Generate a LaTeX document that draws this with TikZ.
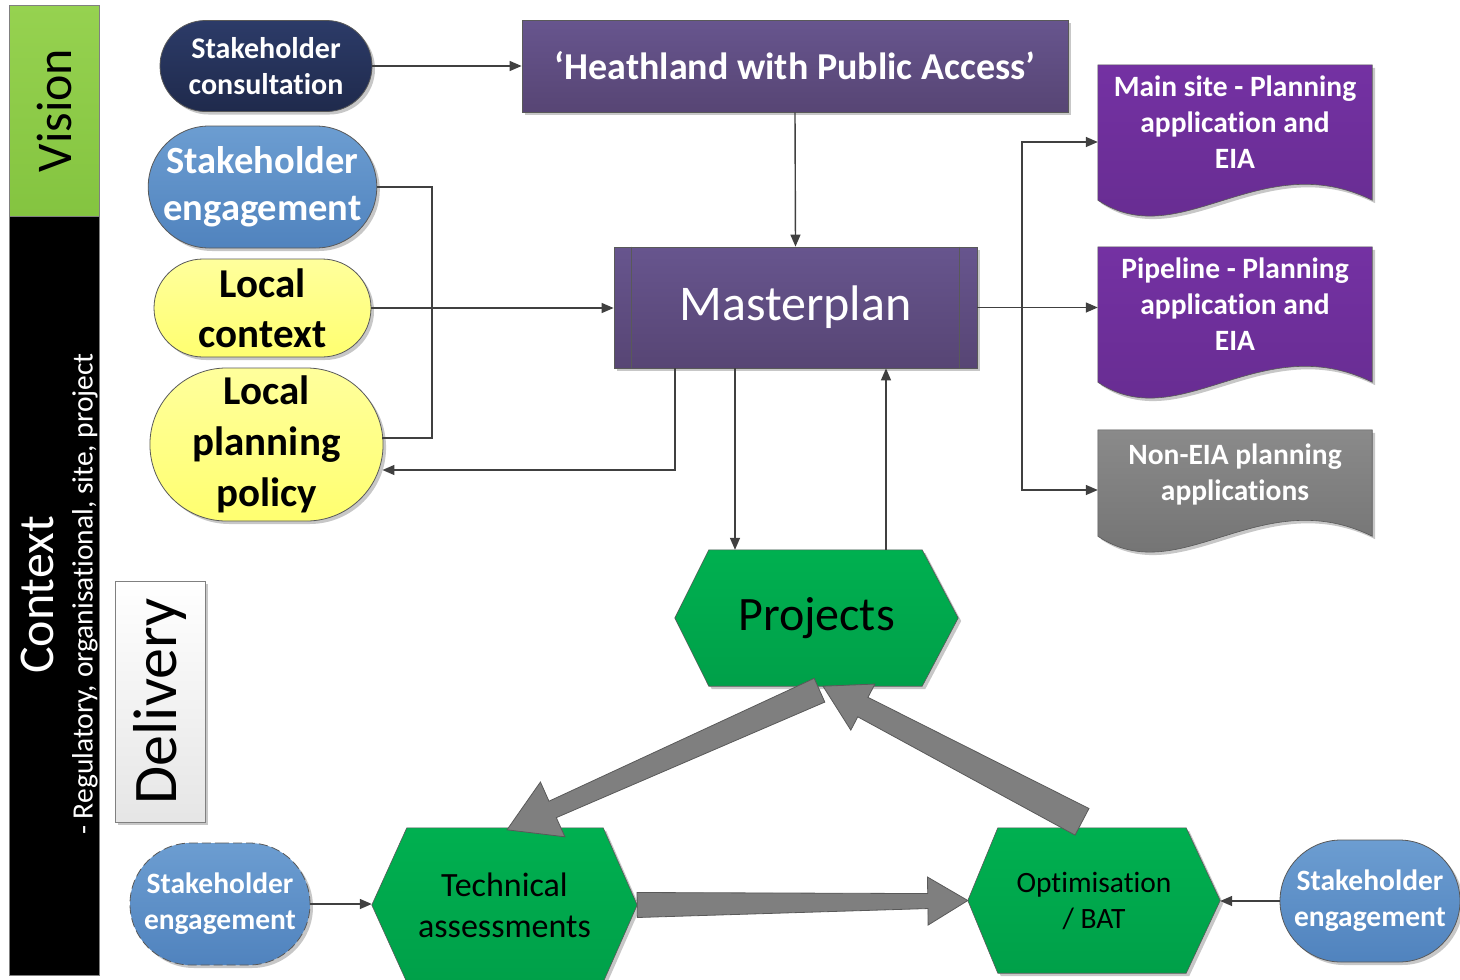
\documentclass[tikz,border=0pt]{standalone}
\usepackage{fontspec}
\setmainfont{Carlito}[Ligatures=NoCommon]
\usetikzlibrary{shapes.misc,arrows.meta,calc,shadows,backgrounds}
\definecolor{linegray}{HTML}{404040}
\definecolor{bordergray}{HTML}{595959}
\definecolor{navytop}{HTML}{2C3B68}
\definecolor{navybot}{HTML}{1F2A4C}
\definecolor{steeltop}{HTML}{6C9DD1}
\definecolor{steelbot}{HTML}{5083BE}
\definecolor{yeltop}{HTML}{FFFF9C}
\definecolor{yelbot}{HTML}{FFFF70}
\definecolor{purtop}{HTML}{67558E}
\definecolor{purbot}{HTML}{574574}
\definecolor{viotop}{HTML}{7431A3}
\definecolor{viobot}{HTML}{652C8E}
\definecolor{graytop}{HTML}{8A8A8A}
\definecolor{graybot}{HTML}{6E6E6E}
\definecolor{grntop}{HTML}{00B050}
\definecolor{grnbot}{HTML}{00A049}
\definecolor{visleft}{HTML}{96D250}
\definecolor{visright}{HTML}{84C440}
\definecolor{arrfill}{HTML}{7F7F7F}
\newcommand\fsz[2]{\fontsize{#1}{#2}\selectfont}
\newcommand\docpath[3]{\path[#3] (#1.north west) -- (#1.north east) -- ($(#1.south east)+(0,#2)$) .. controls +(-112,-55) and +(82,55) .. ($(#1.south west)+(0,#2)$) -- cycle;}
\newcommand\blkarrow[6]{%
  \coordinate (bah) at ($(#2)!#6!(#1)$);
  \path[blockarr] ($(#1)!#3!90:(#2)$) -- ($(bah)!#4!90:(#2)$) -- ($(bah)!#5!90:(#2)$) -- (#2) -- ($(bah)!#5!270:(#2)$) -- ($(bah)!#4!270:(#2)$) -- ($(#1)!#3!270:(#2)$) -- cycle;}
\tikzset{
  conn/.style={draw=linegray, line width=1.4pt, -{Triangle[length=12pt,width=10pt]}},
  plainline/.style={draw=linegray, line width=1.4pt},
  shd/.style={drop shadow={shadow xshift=3pt,shadow yshift=-3pt,opacity=0.22,fill=black}},
  stadium/.style={rounded rectangle, draw=bordergray, line width=0.8pt, align=center, inner sep=0pt, shd},
  navyfill/.style={top color=navytop, bottom color=navybot, text=white},
  steelfill/.style={top color=steeltop, bottom color=steelbot, text=white},
  yelfill/.style={top color=yeltop, bottom color=yelbot, text=black},
  purbox/.style={draw=bordergray, line width=0.8pt, top color=purtop, bottom color=purbot, text=white, align=center, shd},
  docbox/.style={minimum width=274pt, align=center, text=white, inner sep=0pt},
  viofill/.style={draw=bordergray, line width=0.6pt, top color=viotop, bottom color=viobot, shd},
  grayfill/.style={draw=bordergray, line width=0.6pt, top color=graytop, bottom color=graybot, shd},
  hexfill/.style={draw=bordergray, line width=0.6pt, top color=grntop, bottom color=grnbot, shd},
  hexbox/.style={align=center, text=black, inner sep=0pt},
  blockarr/.style={fill=arrfill, draw=bordergray, line width=0.8pt, line join=miter},
}
\begin{document}
\begin{tikzpicture}[x=1pt,y=-1pt]
\useasboundingbox (0,0) rectangle (1460,980);

% side bars
\node[rotate=90, draw=gray, line width=0.8pt, minimum width=211pt, minimum height=90pt,
      top color=visleft, bottom color=visright, font=\fsz{50}{60}, inner sep=0pt] (visbar) at (54,110.5) {Vision};
\node[draw=gray, line width=0.8pt, fill=black, minimum width=90pt, minimum height=759pt, inner sep=0pt] (ctxbar) at (54,595.5) {};
\node[rotate=90, text=white, font=\fsz{50}{60}, inner sep=0pt] (ctx) at (37,595) {Context};
\node[rotate=90, text=white, font=\fsz{29.5}{36}, inner sep=0pt] (reg) at (85,594) {- Regulatory, organisational, site, project};
\node[rotate=90, draw=gray, line width=0.8pt, minimum width=241pt, minimum height=90pt,
      top color=white, bottom color=black!10, font=\fsz{62}{70}, inner sep=0pt, shd] (deliv) at (160,701.5) {Delivery};

% left stadiums
\node[stadium, navyfill, minimum width=212pt, minimum height=91pt, font=\fsz{30}{36}\bfseries] (sc) at (266,66) {Stakeholder\\consultation};
\node[stadium, steelfill, minimum width=217pt, minimum height=122pt, font=\fsz{38.5}{47}\bfseries] (se1) at (262.5,187) {Stakeholder\\engagement};
\node[stadium, yelfill, minimum width=217pt, minimum height=98pt, font=\fsz{41}{50}\bfseries] (lc) at (262.5,308) {Local\\context};
\node[stadium, yelfill, minimum width=225pt, minimum height=153pt, font=\fsz{41}{51}\bfseries] (lpp) at (266.5,444.5) {Local\\planning\\policy};

% central boxes
\node[purbox, minimum width=546pt, minimum height=92pt, font=\fsz{38}{44}\bfseries] (heath) at (795,66) {‘Heathland with Public Access’};
\node[purbox, minimum width=363pt, minimum height=121pt, font=\fsz{50}{60}] (mp) at (795.5,307.5) {Masterplan};
\draw[bordergray, line width=0.9pt] ($(mp.north west)+(18,0)$) -- ($(mp.south west)+(18,0)$);
\draw[bordergray, line width=0.9pt] ($(mp.north east)+(-18,0)$) -- ($(mp.south east)+(-18,0)$);

% documents
\node[docbox, minimum height=114pt, font=\fsz{29.5}{36}\bfseries] (doc1) at (1235,122) {Main site - Planning\\application and\\EIA};
\node[docbox, minimum height=114pt, font=\fsz{29.5}{36}\bfseries] (doc2) at (1235,304) {Pipeline - Planning\\application and\\EIA};
\node[docbox, minimum height=88pt, font=\fsz{29.5}{36}\bfseries] (doc3) at (1235,474) {Non-EIA planning\\applications};

% hexagon texts
\node[hexbox, minimum width=283pt, minimum height=136pt, font=\fsz{48}{56}] (proj) at (816.5,618) {Projects};
\node[hexbox, minimum width=265pt, minimum height=154pt, font=\fsz{34}{41}] (tech) at (504.5,905) {Technical\\assessments};
\node[hexbox, minimum width=252pt, minimum height=145pt, font=\fsz{29.5}{36}] (opt) at (1094,900.5) {Optimisation\\/ BAT};

% bottom stakeholder engagement
\node[stadium, steelfill, dashed, dash pattern=on 9pt off 4pt, minimum width=180pt, minimum height=122pt, font=\fsz{29.5}{36}\bfseries] (sebl) at (220,904) {Stakeholder\\engagement};
\node[stadium, steelfill, minimum width=180pt, minimum height=122pt, font=\fsz{29.5}{36}\bfseries] (sebr) at (1370,901) {Stakeholder\\engagement};

% background shapes
\begin{scope}[on background layer]
  \fill[white] (0,0) rectangle (1460,980);
  \docpath{doc1}{21}{viofill}
  \docpath{doc2}{21}{viofill}
  \docpath{doc3}{18}{grayfill}
  \path[hexfill] ($(proj.north west)+(34,0)$) -- ($(proj.north east)+(-36,0)$) -- (proj.east) -- ($(proj.south east)+(-36,0)$) -- ($(proj.south west)+(34,0)$) -- (proj.west) -- cycle;
  \path[hexfill] ($(tech.north west)+(35,0)$) -- ($(tech.north east)+(-34,0)$) -- (tech.east) -- ($(tech.south east)+(-34,0)$) -- ($(tech.south west)+(35,0)$) -- (tech.west) -- cycle;
  \path[hexfill] ($(opt.north west)+(30,0)$) -- ($(opt.north east)+(-34,0)$) -- (opt.east) -- ($(opt.south east)+(-34,0)$) -- ($(opt.south west)+(30,0)$) -- (opt.west) -- cycle;
\end{scope}

% connectors
\draw[conn] (sc.east) -- (heath.west |- sc.east);
\draw[conn] (heath.south) -- (mp.north);
\coordinate (k1) at (432,187);
\coordinate (k2) at (432,438);
\draw[plainline] (se1.east) -- (k1) -- (k2) -- ($(k2 -| lpp.east)+(-1,0)$);
\draw[conn] (lc.east) -- (mp.west |- lc.east);
\coordinate (k3) at (675,470);
\draw[conn] (mp.south -| k3) -- (k3) -- ($(k3 -| lpp.east)+(-1,0)$);
\coordinate (k4) at (735,500);
\draw[conn] (mp.south -| k4) -- (proj.north -| k4);
\coordinate (k5) at (886,500);
\draw[conn] (proj.north -| k5) -- (mp.south -| k5);
\coordinate (k6) at (1022,142);
\coordinate (k7) at (1022,490);
\draw[conn] (mp.east) -- (mp.east -| doc2.west);
\draw[conn] (k6 |- mp.east) -- (k6) -- (k6 -| doc1.west);
\draw[conn] (k6 |- mp.east) -- (k7) -- (k7 -| doc3.west);
\draw[conn] (sebl.east) -- (tech.west |- sebl.east);
\draw[conn] (sebr.west) -- (opt.east |- sebr.west);

% block arrows
\coordinate (aT) at ($(proj.south)+(3,4)$);
\coordinate (aH) at ($(tech.north)+(2.5,2)$);
\coordinate (bT) at ($(opt.north)+(-12,-6)$);
\coordinate (bH) at ($(proj.south)+(6.5,0)$);
\blkarrow{aT}{aH}{13pt}{9pt}{30pt}{50pt}
\blkarrow{bT}{bH}{15pt}{11pt}{26pt}{45pt}
\blkarrow{tech.east}{opt.west}{12.5pt}{7.5pt}{24pt}{40pt}
\end{tikzpicture}
\end{document}
